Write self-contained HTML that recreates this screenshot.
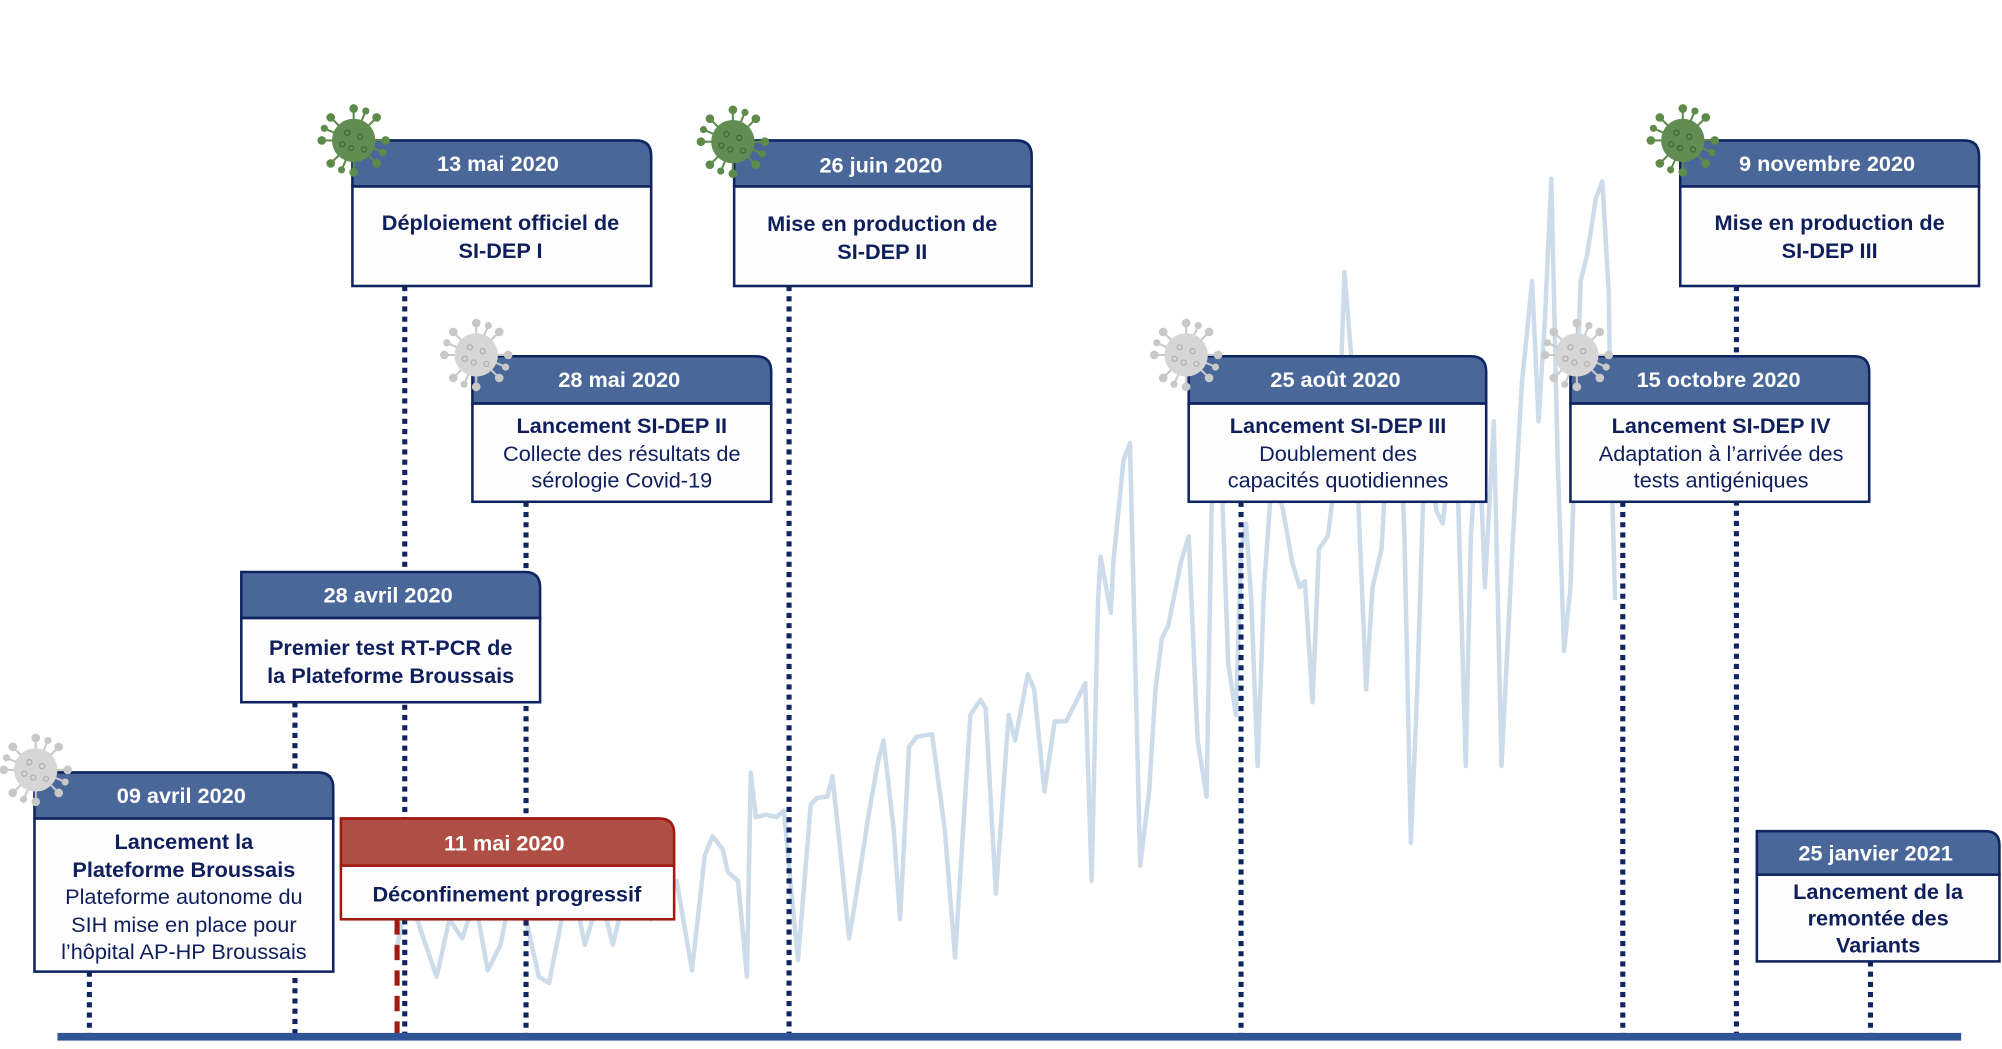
<!DOCTYPE html>
<html><head><meta charset="utf-8"><style>
html,body{margin:0;padding:0;background:#fff;width:2002px;height:1049px;overflow:hidden}
svg{display:block}
text{font-family:"Liberation Sans",sans-serif;text-anchor:middle}
.h{fill:#fff;font-weight:bold;font-size:17px}
.b{fill:#0f1f5c;font-weight:bold;font-size:17px}
.r{fill:#0f1f5c;font-size:17px}
.dot{stroke:#0f2561;stroke-width:4;stroke-dasharray:4 4;fill:none}
</style></head><body>
<svg width="2002" height="1049" viewBox="0 0 1568 821.6" xmlns="http://www.w3.org/2000/svg">
<defs>
<g id="vg">
 <g stroke="#5e8a4a" stroke-width="1.6" fill="#5e8a4a">
  <line x1="0" y1="-16" x2="0" y2="-24"/><circle cx="0" cy="-25" r="2.6"/>
  <line x1="11" y1="-11" x2="17" y2="-17"/><circle cx="18" cy="-18" r="2.6"/>
  <line x1="16" y1="0" x2="24" y2="0"/><circle cx="25" cy="0" r="2.6"/>
  <line x1="11" y1="11" x2="17" y2="17"/><circle cx="18" cy="18" r="2.6"/>
  <line x1="0" y1="16" x2="0" y2="24"/><circle cx="0" cy="25" r="2.6"/>
  <line x1="-11" y1="11" x2="-17" y2="17"/><circle cx="-18" cy="18" r="2.6"/>
  <line x1="-16" y1="0" x2="-24" y2="0"/><circle cx="-25" cy="0" r="2.6"/>
  <line x1="-11" y1="-11" x2="-17" y2="-17"/><circle cx="-18" cy="-18" r="2.6"/>
  <line x1="6" y1="-15" x2="9" y2="-22"/><circle cx="9.5" cy="-23" r="2"/>
  <line x1="-6" y1="15" x2="-9" y2="22"/><circle cx="-9.5" cy="23" r="2"/>
  <line x1="15" y1="6" x2="22" y2="9"/><circle cx="23" cy="9.5" r="2"/>
  <line x1="-15" y1="-6" x2="-22" y2="-9"/><circle cx="-23" cy="-9.5" r="2"/>
 </g>
 <circle r="17" fill="#628d52"/>
 <g fill="none" stroke="#3f6a35" stroke-width="1"><circle cx="-5" cy="-6" r="2"/><circle cx="5" cy="-3" r="2"/><circle cx="-2" cy="6" r="2"/><circle cx="8" cy="7" r="2"/><circle cx="-9" cy="3" r="2"/></g>
</g>
<g id="vy">
 <g stroke="#c8c8c8" stroke-width="1.6" fill="#c8c8c8">
  <line x1="0" y1="-16" x2="0" y2="-24"/><circle cx="0" cy="-25" r="2.6"/>
  <line x1="11" y1="-11" x2="17" y2="-17"/><circle cx="18" cy="-18" r="2.6"/>
  <line x1="16" y1="0" x2="24" y2="0"/><circle cx="25" cy="0" r="2.6"/>
  <line x1="11" y1="11" x2="17" y2="17"/><circle cx="18" cy="18" r="2.6"/>
  <line x1="0" y1="16" x2="0" y2="24"/><circle cx="0" cy="25" r="2.6"/>
  <line x1="-11" y1="11" x2="-17" y2="17"/><circle cx="-18" cy="18" r="2.6"/>
  <line x1="-16" y1="0" x2="-24" y2="0"/><circle cx="-25" cy="0" r="2.6"/>
  <line x1="-11" y1="-11" x2="-17" y2="-17"/><circle cx="-18" cy="-18" r="2.6"/>
  <line x1="6" y1="-15" x2="9" y2="-22"/><circle cx="9.5" cy="-23" r="2"/>
  <line x1="-6" y1="15" x2="-9" y2="22"/><circle cx="-9.5" cy="23" r="2"/>
  <line x1="15" y1="6" x2="22" y2="9"/><circle cx="23" cy="9.5" r="2"/>
  <line x1="-15" y1="-6" x2="-22" y2="-9"/><circle cx="-23" cy="-9.5" r="2"/>
 </g>
 <circle r="17" fill="#d6d6d6"/>
 <g fill="none" stroke="#b0b0b0" stroke-width="1"><circle cx="-5" cy="-6" r="2"/><circle cx="5" cy="-3" r="2"/><circle cx="-2" cy="6" r="2"/><circle cx="8" cy="7" r="2"/><circle cx="-9" cy="3" r="2"/></g>
</g>
</defs>

<!-- chart -->
<polyline fill="none" stroke="#cddcea" stroke-width="3.5" stroke-linejoin="round" points="310,745 320,700 330,730 342,765 352,720 362,735 372,705 382,760 392,740 400,700 412,720 422,765 430,770 440,720 450,700 458,740 470,700 480,740 492,690 500,700 510,720 518,700 530,690 542,760 552,670 558,655 566,665 570,683 578,690 585,765 588,605 592,640 600,638 608,640 614,635 620,700 625,752 635,630 640,625 648,624 652,608 658,665 665,735 670,705 680,640 688,595 692,580 700,650 705,720 712,585 718,577 730,575 740,650 748,750 760,560 768,548 772,555 780,700 790,560 795,580 805,528 810,540 818,620 826,565 835,565 840,555 850,535 855,690 860,470 862,436 870,480 872,440 880,360 885,347 893,678 900,620 905,540 910,500 915,490 925,440 931,420 938,580 945,624 950,340 957,380 962,520 968,560 972,430 976,410 980,470 985,600 990,460 995,390 1000,380 1005,400 1012,440 1018,460 1022,455 1028,550 1033,430 1040,420 1045,380 1050,300 1053,213 1060,300 1070,540 1075,460 1082,430 1085,380 1090,340 1095,290 1100,420 1105,660 1110,540 1115,380 1120,360 1125,400 1130,410 1140,320 1148,600 1152,420 1158,330 1163,460 1170,330 1176,600 1185,420 1192,300 1200,220 1205,330 1210,250 1215,140 1220,360 1225,510 1230,460 1238,220 1243,200 1250,155 1255,142 1260,230 1262,360 1265,470"/>

<!-- dotted connectors -->
<line class="dot" x1="70" y1="761" x2="70" y2="810"/>
<line class="dot" x1="231" y1="550" x2="231" y2="810"/>
<line class="dot" x1="317" y1="224" x2="317" y2="810"/>
<line class="dot" x1="412" y1="393" x2="412" y2="810"/>
<line class="dot" x1="618" y1="224" x2="618" y2="810"/>
<line class="dot" x1="972" y1="393" x2="972" y2="810"/>
<line class="dot" x1="1271" y1="393" x2="1271" y2="810"/>
<line class="dot" x1="1360" y1="224" x2="1360" y2="810"/>
<line class="dot" x1="1465" y1="753" x2="1465" y2="810"/>
<line x1="311" y1="720" x2="311" y2="810" stroke="#a01a10" stroke-width="4" stroke-dasharray="12 8"/>

<!-- axis -->
<rect x="45" y="809" width="1491" height="6" fill="#2f5597"/>

<!-- boxes: header path with rounded top-right -->
<!-- 13 mai -->
<rect x="276" y="146" width="234" height="78" fill="#fdfdfe" stroke="#0f2561" stroke-width="2"/>
<path d="M276,146 V110 H498 Q510,110 510,122 V146 Z" fill="#4a6799" stroke="#0f2561" stroke-width="2"/>
<text class="h" x="390" y="134">13 mai 2020</text>
<text class="b" x="392" y="180">Déploiement officiel de</text>
<text class="b" x="392" y="202">SI-DEP I</text>

<!-- 26 juin -->
<rect x="575" y="146" width="233" height="78" fill="#fdfdfe" stroke="#0f2561" stroke-width="2"/>
<path d="M575,146 V110 H796 Q808,110 808,122 V146 Z" fill="#4a6799" stroke="#0f2561" stroke-width="2"/>
<text class="h" x="690" y="135">26 juin 2020</text>
<text class="b" x="691" y="181">Mise en production de</text>
<text class="b" x="691" y="203">SI-DEP II</text>

<!-- 9 nov -->
<rect x="1316" y="146" width="234" height="78" fill="#fdfdfe" stroke="#0f2561" stroke-width="2"/>
<path d="M1316,146 V110 H1538 Q1550,110 1550,122 V146 Z" fill="#4a6799" stroke="#0f2561" stroke-width="2"/>
<text class="h" x="1431" y="134">9 novembre 2020</text>
<text class="b" x="1433" y="180">Mise en production de</text>
<text class="b" x="1433" y="202">SI-DEP III</text>

<!-- 28 mai -->
<rect x="370" y="316" width="234" height="77" fill="#fdfdfe" stroke="#0f2561" stroke-width="2"/>
<path d="M370,316 V279 H592 Q604,279 604,291 V316 Z" fill="#4a6799" stroke="#0f2561" stroke-width="2"/>
<text class="h" x="485" y="303">28 mai 2020</text>
<text class="b" x="487" y="339">Lancement SI-DEP II</text>
<text class="r" x="487" y="361">Collecte des résultats de</text>
<text class="r" x="487" y="382">sérologie Covid-19</text>

<!-- 25 aout -->
<rect x="931" y="316" width="233" height="77" fill="#fdfdfe" stroke="#0f2561" stroke-width="2"/>
<path d="M931,316 V279 H1152 Q1164,279 1164,291 V316 Z" fill="#4a6799" stroke="#0f2561" stroke-width="2"/>
<text class="h" x="1046" y="303">25 août 2020</text>
<text class="b" x="1048" y="339">Lancement SI-DEP III</text>
<text class="r" x="1048" y="361">Doublement  des</text>
<text class="r" x="1048" y="382">capacités quotidiennes</text>

<!-- 15 oct -->
<rect x="1230" y="316" width="234" height="77" fill="#fdfdfe" stroke="#0f2561" stroke-width="2"/>
<path d="M1230,316 V279 H1452 Q1464,279 1464,291 V316 Z" fill="#4a6799" stroke="#0f2561" stroke-width="2"/>
<text class="h" x="1346" y="303">15 octobre 2020</text>
<text class="b" x="1348" y="339">Lancement SI-DEP IV</text>
<text class="r" x="1348" y="361">Adaptation  à l’arrivée des</text>
<text class="r" x="1348" y="382">tests antigéniques</text>

<!-- 28 avril -->
<rect x="189" y="484" width="234" height="66" fill="#fdfdfe" stroke="#0f2561" stroke-width="2"/>
<path d="M189,484 V448 H411 Q423,448 423,460 V484 Z" fill="#4a6799" stroke="#0f2561" stroke-width="2"/>
<text class="h" x="304" y="472">28 avril 2020</text>
<text class="b" x="306" y="513">Premier test RT-PCR de</text>
<text class="b" x="306" y="535">la Plateforme Broussais</text>

<!-- 09 avril -->
<rect x="27" y="641" width="234" height="120" fill="#fdfdfe" stroke="#0f2561" stroke-width="2"/>
<path d="M27,641 V605 H249 Q261,605 261,617 V641 Z" fill="#4a6799" stroke="#0f2561" stroke-width="2"/>
<text class="h" x="142" y="629">09 avril 2020</text>
<text class="b" x="144" y="665">Lancement la</text>
<text class="b" x="144" y="687">Plateforme Broussais</text>
<text class="r" x="144" y="708">Plateforme autonome du</text>
<text class="r" x="144" y="730">SIH mise en place pour</text>
<text class="r" x="144" y="751">l’hôpital  AP-HP Broussais</text>

<!-- 11 mai -->
<rect x="267" y="678" width="261" height="42" fill="#fdfdfe" stroke="#a01a10" stroke-width="2"/>
<path d="M267,678 V641 H516 Q528,641 528,653 V678 Z" fill="#ae4e44" stroke="#a01a10" stroke-width="2"/>
<text class="h" x="395" y="666">11 mai 2020</text>
<text class="b" x="397" y="706">Déconfinement progressif</text>

<!-- 25 janvier -->
<rect x="1376" y="685" width="190" height="68" fill="#fdfdfe" stroke="#0f2561" stroke-width="2"/>
<path d="M1376,685 V651 H1555 Q1566,651 1566,662 V685 Z" fill="#4a6799" stroke="#0f2561" stroke-width="2"/>
<text class="h" x="1469" y="674">25 janvier 2021</text>
<text class="b" x="1471" y="704">Lancement de la</text>
<text class="b" x="1471" y="725">remontée des</text>
<text class="b" x="1471" y="746">Variants</text>

<!-- viruses -->
<use href="#vg" x="277" y="110"/>
<use href="#vg" x="574" y="111"/>
<use href="#vg" x="1318" y="110"/>
<use href="#vy" x="373" y="278"/>
<use href="#vy" x="929" y="278"/>
<use href="#vy" x="1235" y="278"/>
<use href="#vy" x="28" y="603"/>
</svg>
</body></html>
